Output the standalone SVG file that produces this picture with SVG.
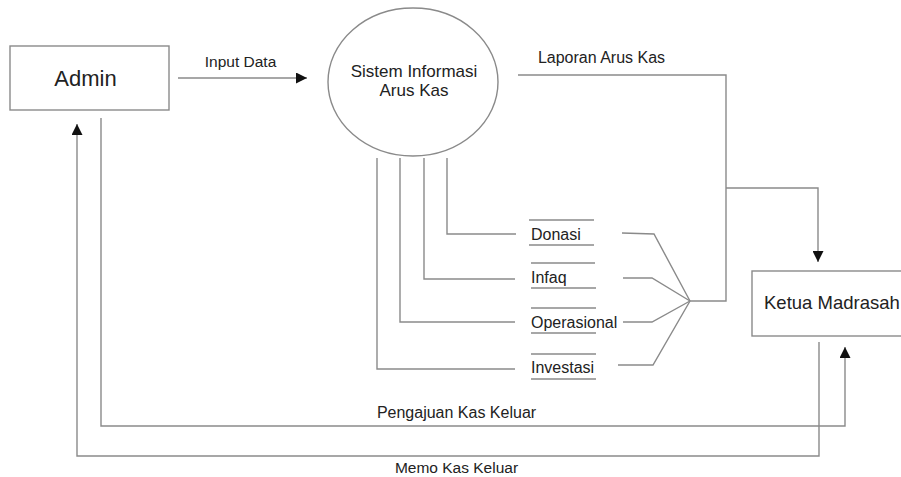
<svg xmlns="http://www.w3.org/2000/svg" width="901" height="477" viewBox="0 0 901 477">
<style>
.ln{fill:none;stroke:#8a8a8a;stroke-width:1.4}
.bx{fill:#fff;stroke:#8a8a8a;stroke-width:1.4}
.t{font-family:"Liberation Sans",Arial,sans-serif;fill:#222}
</style>
<defs>
<marker id="ah" markerUnits="userSpaceOnUse" markerWidth="11" markerHeight="11" refX="10" refY="5" orient="auto" viewBox="0 0 10 10">
<path d="M0,0 L10,5 L0,10 z" fill="#111"/>
</marker>
</defs>
<rect width="901" height="477" fill="#fff"/>
<g id="connectors">
<path class="ln" d="M178,78 H307" marker-end="url(#ah)"/>
<path class="ln" d="M518,75 H726 V301 H690"/>
<path class="ln" d="M726,188 H818 V262" marker-end="url(#ah)"/>
<path class="ln" d="M447,158 V234 H516"/>
<path class="ln" d="M424,158 V279 H515"/>
<path class="ln" d="M400,158 V322 H515"/>
<path class="ln" d="M377,158 V369 H515"/>
<path class="ln" d="M622,233 L654,234 L690,301"/>
<path class="ln" d="M623,278 L652,278 L690,301"/>
<path class="ln" d="M623,322 L652,322 L690,301"/>
<path class="ln" d="M618,365 L653,365 L690,301"/>
<path class="ln" d="M101,118 V426 H845 V347" marker-end="url(#ah)"/>
<path class="ln" d="M819,342 V456 H77 V124" marker-end="url(#ah)"/>
<text class="t" x="240.5" y="67" font-size="15.5" text-anchor="middle">Input Data</text>
<text class="t" x="601.5" y="63" font-size="16" text-anchor="middle">Laporan Arus Kas</text>
<text class="t" x="456.5" y="418" font-size="16" text-anchor="middle">Pengajuan Kas Keluar</text>
<text class="t" x="456.5" y="473" font-size="15.5" text-anchor="middle">Memo Kas Keluar</text>
</g>
<g id="admin">
<rect class="bx" x="10" y="46" width="159" height="64"/>
<text class="t" x="85.5" y="86" font-size="22" text-anchor="middle">Admin</text>
</g>
<g id="sistem">
<ellipse class="bx" cx="413" cy="82" rx="85" ry="74"/>
<text class="t" x="414" y="77" font-size="17" text-anchor="middle">Sistem Informasi</text>
<text class="t" x="414" y="96" font-size="17" text-anchor="middle">Arus Kas</text>
</g>
<g id="ketua">
<rect class="bx" x="752" y="271" width="160" height="65"/>
<text class="t" x="764" y="309" font-size="18.5">Ketua Madrasah</text>
</g>
<g id="ds-donasi">
<path class="ln" d="M529,220 H594 M529,245 H594"/>
<text class="t" x="531" y="240" font-size="16">Donasi</text>
</g>
<g id="ds-infaq">
<path class="ln" d="M531,263 H595 M531,288 H596"/>
<text class="t" x="531" y="283" font-size="16">Infaq</text>
</g>
<g id="ds-operasional">
<path class="ln" d="M531,308 H596 M531,333 H596"/>
<text class="t" x="531" y="328" font-size="16">Operasional</text>
</g>
<g id="ds-investasi">
<path class="ln" d="M531,354 H596 M531,379 H596"/>
<text class="t" x="531" y="373" font-size="16">Investasi</text>
</g>
</svg>
